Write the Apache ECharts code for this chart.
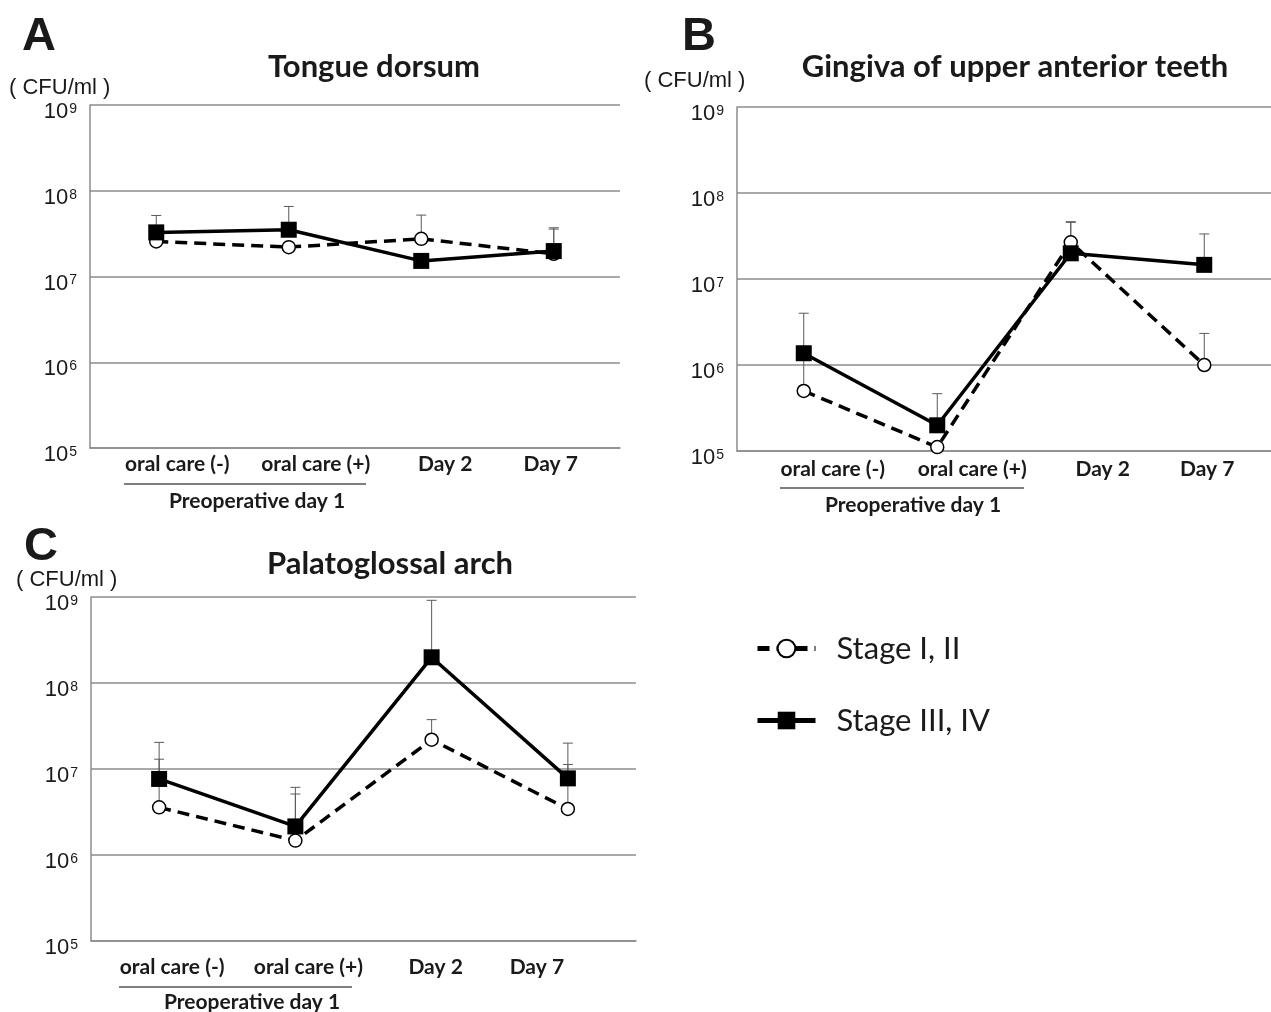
<!DOCTYPE html>
<html>
<head>
<meta charset="utf-8">
<script src="https://cdn.jsdelivr.net/npm/echarts@6/dist/echarts.min.js"></script>
<style>html,body{margin:0;padding:0;background:#fff}#main{width:1271px;height:1012px}</style>
</head>
<body>
<div id="main"></div>
<script>
// ---- data ----
const categories = ['oral care (-)', 'oral care (+)', 'Day 2', 'Day 7'];
const seriesNames = ['Stage I, II', 'Stage III, IV'];
const yTicks = [1e5, 1e6, 1e7, 1e8, 1e9];

const tongueStage12 = [2.56e7, 2.2e7, 2.75e7, 1.84e7];
const tongueStage34 = [3.27e7, 3.51e7, 1.52e7, 1.98e7];
const tongueErr12 = [null, null, 5.2e7, 3.57e7];
const tongueErr34 = [5.15e7, 6.56e7, null, 3.7e7];

const gingivaStage12 = [4.99e5, 1.11e5, 2.67e7, 1.0e6];
const gingivaStage34 = [1.37e6, 1.99e5, 1.99e7, 1.46e7];
const gingivaErr12 = [4.0e6, null, 4.56e7, 2.33e6];
const gingivaErr34 = [null, 4.64e5, 4.64e7, 3.34e7];

const palatoStage12 = [3.58e6, 1.47e6, 2.19e7, 3.43e6];
const palatoStage34 = [7.66e6, 2.15e6, 1.99e8, 7.78e6];
const palatoErr12 = [1.3e7, 5.12e6, 3.75e7, 1.13e7];
const palatoErr34 = [2.04e7, 6.12e6, 9.15e8, 2.0e7];

const panelTitles = ['Tongue dorsum', 'Gingiva of upper anterior teeth', 'Palatoglossal arch'];
const panelLetters = ['A', 'B', 'C'];
const unitLabel = '( CFU/ml )';
const groupLabel = 'Preoperative day 1';

// ---- layout / style ----
const panels = [
  {grid:{left:90, top:105, width:530, height:343}, shifts:[21,27,24,-3], labelMargin:6,
   s12:tongueStage12, s34:tongueStage34, e12:tongueErr12, e34:tongueErr34},
  {grid:{left:737, top:107, width:534, height:344}, shifts:[29,35,32,3], labelMargin:8,
   s12:gingivaStage12, s34:gingivaStage34, e12:gingivaErr12, e34:gingivaErr34},
  {grid:{left:91, top:597, width:545, height:344}, shifts:[13,13,4,-31], labelMargin:16,
   s12:palatoStage12, s34:palatoStage34, e12:palatoErr12, e34:palatoErr34}
];
const GRID = '#8c8c8c';
const TXT = '#1a1a1a';
const SANS = 'Lato, "Noto Sans", sans-serif';
const ARIAL = '"Liberation Sans", Arial, sans-serif';

function xRich(shifts){
  const r = {};
  shifts.forEach((d, i) => {
    r['c' + i] = {fontFamily: SANS, fontWeight: 'bold', fontSize: 21, color: TXT,
      padding: d >= 0 ? [0, 0, 0, 2 * d] : [0, -2 * d, 0, 0]};
  });
  return r;
}

function errRender(params, api){
  const hi = api.value(2);
  const p0 = api.coord([api.value(0), api.value(1)]);
  const p1 = api.coord([api.value(0), hi]);
  const st = {stroke: '#5a5a5a', lineWidth: 1};
  return {type: 'group', children: [
    {type: 'line', shape: {x1: p0[0], y1: p0[1], x2: p1[0], y2: p1[1]}, style: st},
    {type: 'line', shape: {x1: p1[0] - 5, y1: p1[1], x2: p1[0] + 5, y2: p1[1]}, style: st}
  ]};
}
function errData(vals, tops){
  const out = [];
  tops.forEach((t, i) => { if (t != null) out.push([i, vals[i], t]); });
  return out;
}

const grids = [], xAxes = [], yAxes = [], series = [];
panels.forEach((p, k) => {
  grids.push(p.grid);
  xAxes.push({type: 'category', gridIndex: k, data: categories, boundaryGap: true,
    axisLine: {show: true, lineStyle: {color: GRID, width: 1.5}}, axisTick: {show: false},
    axisLabel: {margin: p.labelMargin, interval: 0,
      formatter: (v, i) => '{c' + i + '|' + v + '}', rich: xRich(p.shifts)}});
  yAxes.push({type: 'log', logBase: 10, gridIndex: k, min: 1e5, max: 1e9,
    axisLine: {show: true, lineStyle: {color: GRID, width: 1.5}}, axisTick: {show: false},
    splitLine: {show: true, lineStyle: {color: GRID, width: 1.5}},
    axisLabel: {margin: 13, fontSize: 22,
      formatter: v => '{b|10}{s|' + Math.round(Math.log10(v)) + '}',
      rich: {b: {fontFamily: ARIAL, fontSize: 22, color: TXT, padding: [14, 0, 0, 0]},
             s: {fontFamily: ARIAL, fontSize: 14, color: TXT, padding: [8, 0, 0, 1]}}}});
  series.push({type: 'custom', xAxisIndex: k, yAxisIndex: k, renderItem: errRender,
    data: errData(p.s12, p.e12), z: 1, silent: true});
  series.push({type: 'custom', xAxisIndex: k, yAxisIndex: k, renderItem: errRender,
    data: errData(p.s34, p.e34), z: 1, silent: true});
  series.push({name: seriesNames[0], type: 'line', xAxisIndex: k, yAxisIndex: k, data: p.s12,
    symbol: 'circle', symbolSize: 13, z: 3,
    lineStyle: {color: '#000', width: 3.5, type: [12, 7]},
    itemStyle: {color: '#fff', borderColor: '#000', borderWidth: 1.5}});
  series.push({name: seriesNames[1], type: 'line', xAxisIndex: k, yAxisIndex: k, data: p.s34,
    symbol: 'rect', symbolSize: 16, z: 4,
    lineStyle: {color: '#000', width: 3.5, type: 'solid'},
    itemStyle: {color: '#000', borderColor: '#000', borderWidth: 0}});
});

const titleStyle = {fontFamily: SANS, fontWeight: 'bold', fontSize: 31, color: TXT};
const letterStyle = {fontFamily: ARIAL, fontWeight: 'bold', fontSize: 47, color: TXT};
const unitStyle = {fontFamily: ARIAL, fontWeight: 'normal', fontSize: 22, color: TXT};

const titles = [
  {text: panelTitles[0], left: 369, top: 46, textAlign: 'center', textStyle: titleStyle},
  {text: panelTitles[1], left: 1010, top: 46, textAlign: 'center', textStyle: titleStyle},
  {text: panelTitles[2], left: 385, top: 543, textAlign: 'center', textStyle: titleStyle},
  {text: panelLetters[0], left: 17, top: 9, textStyle: letterStyle},
  {text: panelLetters[1], left: 677, top: 9, textStyle: letterStyle},
  {text: panelLetters[2], left: 19, top: 519, textStyle: letterStyle},
  {text: unitLabel, left: 4, top: 72, textStyle: unitStyle},
  {text: unitLabel, left: 639, top: 65, textStyle: unitStyle},
  {text: unitLabel, left: 11, top: 564, textStyle: unitStyle}
];

const groupStyle = {fill: TXT, font: 'bold 21px ' + SANS, textAlign: 'center', textVerticalAlign: 'middle'};
const graphics = [
  {type: 'line', shape: {x1: 124, y1: 484, x2: 366, y2: 484}, style: {stroke: '#000', lineWidth: 1.2}},
  {type: 'text', x: 257, y: 501, style: Object.assign({text: groupLabel}, groupStyle)},
  {type: 'line', shape: {x1: 780, y1: 488, x2: 1024, y2: 488}, style: {stroke: '#000', lineWidth: 1.2}},
  {type: 'text', x: 913, y: 505, style: Object.assign({text: groupLabel}, groupStyle)},
  {type: 'line', shape: {x1: 119, y1: 987, x2: 352, y2: 987}, style: {stroke: '#000', lineWidth: 1.2}},
  {type: 'text', x: 252, y: 1002, style: Object.assign({text: groupLabel}, groupStyle)}
];

const chart = echarts.init(document.getElementById('main'), null, {renderer: 'canvas'});
chart.setOption({
  animation: false,
  backgroundColor: '#fff',
  title: titles,
  grid: grids,
  xAxis: xAxes,
  yAxis: yAxes,
  legend: {data: seriesNames, orient: 'vertical', left: 750, top: 628, itemWidth: 58, itemHeight: 22,
    itemGap: 41, selectedMode: false,
    lineStyle: {width: 5},
    textStyle: {fontFamily: SANS, fontSize: 31, color: TXT, padding: [0, 0, 0, 16]}},
  graphic: graphics,
  series: series
});
</script>
</body>
</html>
